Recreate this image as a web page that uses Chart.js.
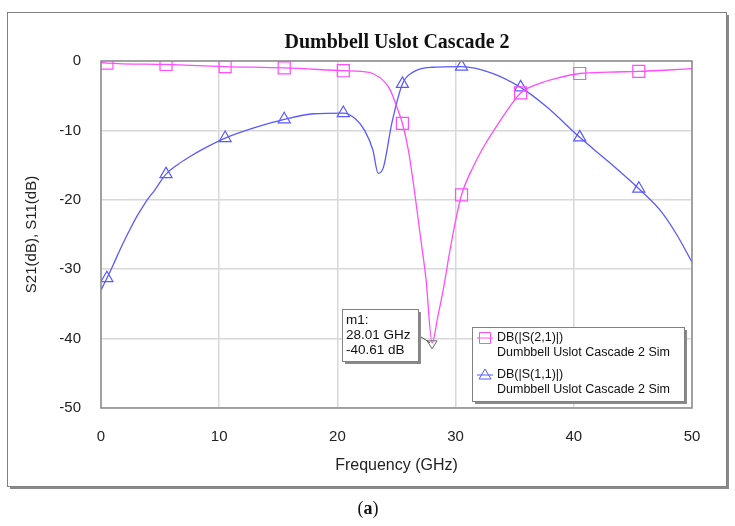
<!DOCTYPE html>
<html>
<head>
<meta charset="utf-8">
<script src="https://cdn.jsdelivr.net/npm/chart.js@4.4.1/dist/chart.umd.min.js"></script>
<style>
  html, body { margin: 0; padding: 0; background: #fff; }
  canvas { display: block; }
</style>
</head>
<body>
<canvas id="grafico" width="735" height="526"></canvas>
<script>
// S21 (magenta, cuadrados)
const s21Freq = [0, 0.5, 5.5, 10.5, 15.5, 20.5, 22, 23, 24, 24.5, 25, 25.5, 26, 26.5, 27, 27.5, 28.01, 28.5, 29, 29.5, 30, 30.5, 31.5, 32.5, 33.5, 34.5, 35.5, 37, 38.5, 40.5, 43, 45.5, 48, 50];
const s21Db = [-0.2, -0.3, -0.5, -0.8, -1.0, -1.4, -1.5, -1.8, -3.0, -4.3, -6.5, -9.0, -12.8, -18.5, -25, -31.5, -40.61, -36.8, -32.5, -27.5, -23, -19.3, -15.2, -12, -9.3, -6.8, -4.6, -3.3, -2.5, -1.8, -1.6, -1.5, -1.3, -1.1];

// S11 (azul, triangulos)
const s11Freq = [0, 0.5, 1, 1.5, 2, 2.5, 3, 3.5, 4, 4.5, 5.5, 6.5, 7.5, 8.5, 10.5, 13, 15.5, 18, 20.5, 21.5, 22.3, 23, 23.45, 23.9, 24.6, 25.5, 26.4, 28, 30.5, 33, 35.5, 37.7, 40.5, 43, 45.5, 47.3, 48.7, 50];
const s11Db = [-33, -31.3, -29.5, -27.6, -25.8, -24.1, -22.5, -21.1, -19.8, -18.7, -16.3, -14.9, -13.8, -12.8, -11.1, -9.6, -8.4, -7.6, -7.5, -8.3, -10, -12.8, -16.2, -15.3, -9, -3.3, -1.6, -0.9, -0.8, -1.7, -3.8, -6.6, -11, -14.6, -18.4, -21.5, -25, -29];

const marcadores = [0.5, 5.5, 10.5, 15.5, 20.5, 25.5, 30.5, 35.5, 40.5, 45.5];
const xTicks = [0, 10, 20, 30, 40, 50];
const yTicks = [0, -10, -20, -30, -40, -50];

const m1Freq = 28.01;
const m1Db = -40.61;
const m1Texto = ["m1:", "28.01 GHz", "-40.61 dB"];

const titulo = "Dumbbell Uslot Cascade 2";
const leyenda = [
  { nombre: "DB(|S(2,1)|)", sim: "Dumbbell Uslot Cascade 2 Sim", color: "#ff4dff", forma: "rect" },
  { nombre: "DB(|S(1,1)|)", sim: "Dumbbell Uslot Cascade 2 Sim", color: "#5a5aff", forma: "triangle" }
];

const FUENTE = "'Liberation Sans', Arial, sans-serif";

function armarPuntos(xs, ys) {
  return xs.map((x, i) => ({ x, y: ys[i] }));
}

function radioMarcador(r) {
  return ctx => (ctx.raw && marcadores.includes(ctx.raw.x)) ? r : 0;
}

function cajaSombra(ctx, x, y, w, h) {
  ctx.fillStyle = "#8a8a8a";
  ctx.fillRect(x + 3, y + 3, w, h);
  ctx.fillStyle = "#fff";
  ctx.fillRect(x, y, w, h);
  ctx.strokeStyle = "#808080";
  ctx.lineWidth = 1;
  ctx.strokeRect(x + 0.5, y + 0.5, w, h);
}

const marcoPlugin = {
  id: "marco",
  beforeDraw(chart) {
    const ctx = chart.ctx;
    ctx.save();
    ctx.fillStyle = "#fff";
    ctx.fillRect(0, 0, chart.width, chart.height);
    cajaSombra(ctx, 7, 12, 719, 474);

    ctx.fillStyle = "#111";
    ctx.font = "bold 20px 'Liberation Serif', 'Times New Roman', serif";
    ctx.textAlign = "center";
    ctx.textBaseline = "middle";
    ctx.fillText(titulo, 397, 43);

    // (a)
    ctx.font = "18px 'Liberation Serif', serif";
    ctx.textAlign = "left";
    const wp = ctx.measureText("(").width;
    ctx.font = "bold 18px 'Liberation Serif', serif";
    const wa = ctx.measureText("a").width;
    let x0 = 368 - (wp * 2 + wa) / 2;
    ctx.font = "18px 'Liberation Serif', serif";
    ctx.fillText("(", x0, 509);
    ctx.font = "bold 18px 'Liberation Serif', serif";
    ctx.fillText("a", x0 + wp, 509);
    ctx.font = "18px 'Liberation Serif', serif";
    ctx.fillText(")", x0 + wp + wa, 509);
    ctx.restore();
  },
  afterDatasetsDraw(chart) {
    const ctx = chart.ctx;
    const area = chart.chartArea;
    const sx = chart.scales.x;
    const sy = chart.scales.y;
    ctx.save();
    ctx.strokeStyle = "#8c8c8c";
    ctx.lineWidth = 1.5;
    ctx.strokeRect(area.left, area.top, area.right - area.left, area.bottom - area.top);

    // marcador m1
    const px = sx.getPixelForValue(m1Freq);
    const py = sy.getPixelForValue(m1Db);
    const bx = 342, by = 309, bw = 76, bh = 52;
    ctx.strokeStyle = "#555";
    ctx.lineWidth = 1;
    ctx.beginPath();
    ctx.moveTo(bx + bw, by + 26);
    ctx.lineTo(px - 2, py);
    ctx.stroke();
    ctx.strokeStyle = "#666";
    ctx.beginPath();
    ctx.moveTo(px - 5, py - 2);
    ctx.lineTo(px + 5, py - 2);
    ctx.lineTo(px, py + 6);
    ctx.closePath();
    ctx.stroke();

    cajaSombra(ctx, bx, by, bw, bh);
    ctx.fillStyle = "#111";
    ctx.font = "13.5px " + FUENTE;
    ctx.textAlign = "left";
    ctx.textBaseline = "middle";
    m1Texto.forEach((t, i) => ctx.fillText(t, bx + 4, by + 11 + i * 15));

    // leyenda
    const lx = 472, ly = 327, lw = 212, lh = 74;
    cajaSombra(ctx, lx, ly, lw, lh);
    ctx.font = "12.5px " + FUENTE;
    leyenda.forEach((item, i) => {
      const yy = ly + 11 + i * 37;
      ctx.strokeStyle = item.color;
      ctx.lineWidth = 1;
      ctx.beginPath();
      ctx.moveTo(lx + 5, yy);
      ctx.lineTo(lx + 21, yy);
      ctx.stroke();
      ctx.beginPath();
      if (item.forma === "rect") {
        ctx.rect(lx + 7.5, yy - 5.5, 11, 11);
      } else {
        ctx.moveTo(lx + 13, yy - 6);
        ctx.lineTo(lx + 19, yy + 4);
        ctx.lineTo(lx + 7, yy + 4);
        ctx.closePath();
      }
      ctx.stroke();
      ctx.fillStyle = "#111";
      ctx.fillText(item.nombre, lx + 25, yy);
      ctx.fillText(item.sim, lx + 25, yy + 15);
    });
    ctx.restore();
  }
};

function crearGrafico() {
  const canvas = document.getElementById("grafico");

  new Chart(canvas, {
    type: "line",
    data: {
      datasets: [
        {
          label: "DB(|S(2,1)|)",
          data: armarPuntos(s21Freq, s21Db),
          borderColor: "#ff4dff",
          borderWidth: 1.3,
          pointStyle: "rect",
          pointRadius: radioMarcador(8.5),
          pointBorderColor: "#ff4dff",
          pointBorderWidth: 1.2,
          pointBackgroundColor: "rgba(0,0,0,0)",
          cubicInterpolationMode: "monotone",
          fill: false
        },
        {
          label: "DB(|S(1,1)|)",
          data: armarPuntos(s11Freq, s11Db),
          borderColor: "#5a5aff",
          borderWidth: 1.3,
          pointStyle: "triangle",
          pointRadius: radioMarcador(7),
          pointBorderColor: "#5a5aff",
          pointBorderWidth: 1.2,
          pointBackgroundColor: "rgba(0,0,0,0)",
          cubicInterpolationMode: "monotone",
          fill: false
        }
      ]
    },
    options: {
      responsive: false,
      animation: false,
      devicePixelRatio: 1,
      layout: {
        padding: { left: 10, right: 43, top: 61, bottom: 48 }
      },
      plugins: {
        legend: { display: false },
        title: { display: false },
        tooltip: { enabled: false }
      },
      scales: {
        x: {
          type: "linear",
          min: 0,
          max: 50,
          afterBuildTicks: scale => { scale.ticks = xTicks.map(v => ({ value: v })); },
          afterFit: scale => { scale.height = 70; },
          grid: { color: "#d8d8d8", lineWidth: 1.5, drawTicks: false },
          border: { display: false },
          ticks: {
            padding: 20,
            color: "#222",
            font: { family: FUENTE, size: 15 }
          },
          title: {
            display: true,
            text: "Frequency (GHz)",
            color: "#222",
            font: { family: FUENTE, size: 16 },
            padding: { top: 0, bottom: 3 }
          }
        },
        y: {
          min: -50,
          max: 0,
          afterBuildTicks: scale => { scale.ticks = yTicks.map(v => ({ value: v })); },
          afterFit: scale => { scale.width = 91; },
          grid: { color: "#d8d8d8", lineWidth: 1.5, drawTicks: false },
          border: { display: false },
          ticks: {
            padding: 20,
            color: "#222",
            font: { family: FUENTE, size: 15 }
          },
          title: {
            display: true,
            text: "S21(dB), S11(dB)",
            color: "#222",
            font: { family: FUENTE, size: 15 },
            padding: { top: 13, bottom: 0 }
          }
        }
      }
    },
    plugins: [marcoPlugin]
  });
}

document.addEventListener("DOMContentLoaded", crearGrafico);
</script>
</body>
</html>
